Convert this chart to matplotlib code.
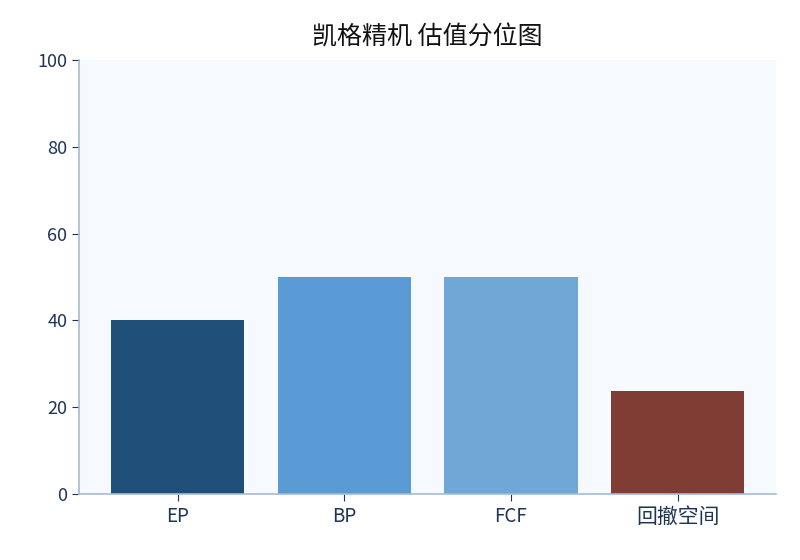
import matplotlib
matplotlib.use("Agg")
import matplotlib.pyplot as plt

plt.rcParams['font.family'] = ['Noto Sans CJK SC', 'DejaVu Sans']

categories = ["EP", "BP", "FCF", "回撤空间"]
values = [40, 50, 50, 23.7]
colors = ["#1f4e79", "#5b9bd5", "#6fa8d6", "#7f3d34"]

fig = plt.figure(figsize=(8, 5.6), dpi=100)
ax = fig.add_axes([0.099, 0.118, 0.871, 0.775])
ax.set_facecolor("#f6f9fe")

ax.bar(range(len(categories)), values, width=0.8, color=colors)
ax.set_xticks(range(len(categories)))
ax.set_xticklabels(categories)
ax.set_ylim(0, 100)
ax.set_yticks([0, 20, 40, 60, 80, 100])

for s in ["top", "right"]:
    ax.spines[s].set_visible(False)
for s in ["left", "bottom"]:
    ax.spines[s].set_color("#a3bbd6")
    ax.spines[s].set_linewidth(1.2)

ax.tick_params(colors="#1f3557", labelsize=13, length=5)
ax.tick_params(axis="x", labelsize=13.5)
for lbl in ax.get_xticklabels():
    if not lbl.get_text().isascii():
        lbl.set_fontsize(15)
ax.set_title("凯格精机 估值分位图", fontsize=18, color="#111111", pad=11)

fig.savefig("out.png", dpi=100)
